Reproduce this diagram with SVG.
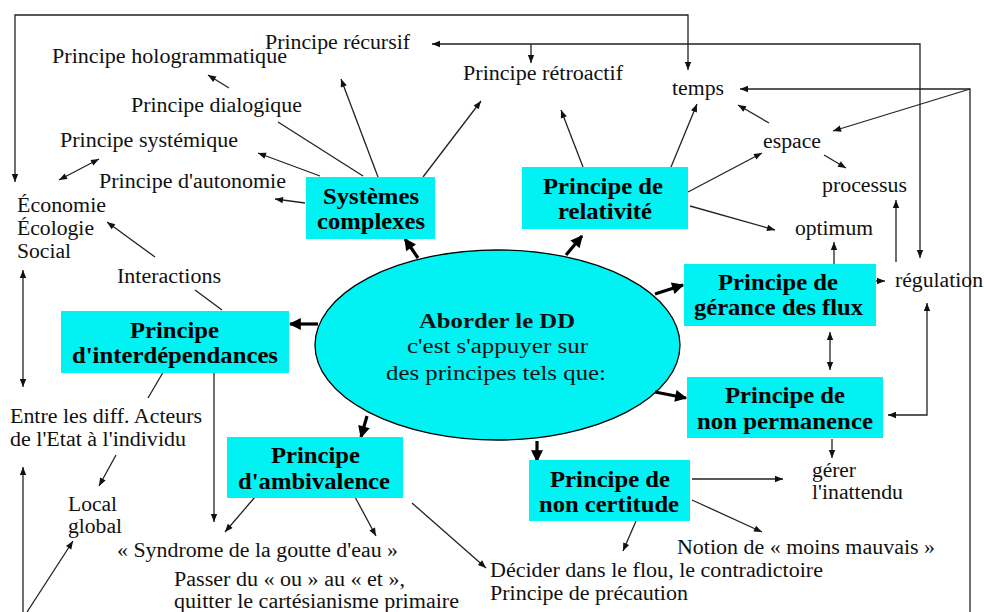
<svg xmlns="http://www.w3.org/2000/svg" width="984" height="612" viewBox="0 0 984 612">
<defs>
<marker id="a" viewBox="0 0 10 10" refX="10" refY="5" markerWidth="9" markerHeight="8" markerUnits="userSpaceOnUse" orient="auto-start-reverse"><path d="M0,1 L10,5 L0,9 z" fill="#111"/></marker>
<marker id="b" viewBox="0 0 10 10" refX="9" refY="5" markerWidth="13" markerHeight="12" markerUnits="userSpaceOnUse" orient="auto"><path d="M0,0 L10,5 L0,10 z" fill="#000"/></marker>
<style>
.t{font-family:"Liberation Serif","Times New Roman",serif;font-size:20px;fill:#111}
.b{font-family:"Liberation Serif","Times New Roman",serif;font-size:23px;font-weight:bold;fill:#000}
.box{fill:#00F2F2}
.c path{fill:none;stroke:#222;stroke-width:1.3}
.c .e{marker-end:url(#a)}
.c .s{marker-start:url(#a)}
.k path{fill:none;stroke:#000;stroke-width:3.2;marker-end:url(#b)}
</style>
</defs>
<rect width="984" height="612" fill="#fff"/>

<g class="c" id="connectors">
<path class="e s" d="M15,182 L15,15 L688,15 L688,70"/>
<path class="e s" d="M432,44 L920,44 L920,258"/>
<path class="e" d="M531,44 L531,63"/>
<path class="e" d="M970,612 L970,89 L740,89"/>
<path class="e" d="M970,89 L833,131"/>
<path class="e" d="M23,612 L23,467"/>
<path class="e" d="M27,612 L73,541"/>
<path class="e s" d="M23,270 L23,387"/>
<path class="e s" d="M59,180 L99,159"/>
<path class="e" d="M155,257 L107,222"/>
<path d="M195,290 L222,310"/>
<path d="M363,176 L278,122"/>
<path class="e" d="M229,88 L208,75"/>
<path class="e" d="M320,176 L258,153"/>
<path class="e" d="M305,203 L275,199"/>
<path class="e" d="M378,177 L341,79"/>
<path class="e" d="M423,177 L481,101"/>
<path class="e" d="M583,167 L561,110"/>
<path class="e" d="M671,167 L697,104"/>
<path class="e" d="M688,192 L762,153"/>
<path class="e" d="M690,206 L775,230"/>
<path class="e" d="M769,123 L738,105"/>
<path class="e" d="M824,155 L846,168"/>
<path class="e" d="M896,262 L896,200"/>
<path class="e" d="M834,264 L834,242"/>
<path class="e" d="M876,281 L885,281"/>
<path class="e s" d="M830,332 L830,370"/>
<path class="e s" d="M888,415 L927,415 L927,303"/>
<path class="e" d="M832,439 L832,458"/>
<path class="e" d="M692,479 L783,479"/>
<path class="e" d="M692,500 L762,532"/>
<path class="e" d="M636,521 L623,551"/>
<path d="M165,369 L148,398"/>
<path class="e" d="M116,455 L99,486"/>
<path class="e" d="M214,369 L214,522"/>
<path class="e" d="M255,497 L225,532"/>
<path class="e" d="M355,497 L376,536"/>
<path class="e" d="M412,503 L486,568"/>
</g>

<g id="center">
<ellipse cx="497.5" cy="345" rx="182.5" ry="95" fill="#00F2F2" stroke="#000" stroke-width="1.3"/>
<text class="t" x="419" y="328" textLength="156" lengthAdjust="spacingAndGlyphs" font-weight="bold">Aborder le DD</text>
<text class="t" x="407" y="353" textLength="181" lengthAdjust="spacingAndGlyphs">c'est s'appuyer sur</text>
<text class="t" x="386" y="380" textLength="220" lengthAdjust="spacingAndGlyphs">des principes tels que:</text>
</g>

<g class="k" id="main-arrows">
<path d="M418,258 L405,239"/>
<path d="M566,255 L582,236"/>
<path d="M655,294 L683,285"/>
<path d="M655,392 L686,398"/>
<path d="M537,441 L537,461"/>
<path d="M367,416 L361,437"/>
<path d="M318,324 L290,324"/>
</g>

<g id="systemes">
<rect class="box" x="306" y="177" width="129" height="62"/>
<text class="b" x="323" y="204" textLength="96" lengthAdjust="spacingAndGlyphs">Systèmes</text>
<text class="b" x="317" y="229" textLength="108" lengthAdjust="spacingAndGlyphs">complexes</text>
</g>
<g id="relativite">
<rect class="box" x="522" y="167" width="166" height="62"/>
<text class="b" x="543" y="194" textLength="120" lengthAdjust="spacingAndGlyphs">Principe de</text>
<text class="b" x="558" y="219" textLength="94" lengthAdjust="spacingAndGlyphs">relativité</text>
</g>
<g id="gerance">
<rect class="box" x="684" y="264" width="192" height="62"/>
<text class="b" x="718" y="290" textLength="120" lengthAdjust="spacingAndGlyphs">Principe de</text>
<text class="b" x="694" y="315" textLength="169" lengthAdjust="spacingAndGlyphs">gérance des flux</text>
</g>
<g id="interdependances">
<rect class="box" x="61" y="311" width="228" height="62"/>
<text class="b" x="130" y="338" textLength="89" lengthAdjust="spacingAndGlyphs">Principe</text>
<text class="b" x="72" y="363" textLength="206" lengthAdjust="spacingAndGlyphs">d'interdépendances</text>
</g>
<g id="permanence">
<rect class="box" x="687" y="377" width="196" height="61"/>
<text class="b" x="725" y="403" textLength="120" lengthAdjust="spacingAndGlyphs">Principe de</text>
<text class="b" x="697" y="429" textLength="176" lengthAdjust="spacingAndGlyphs">non permanence</text>
</g>
<g id="ambivalence">
<rect class="box" x="227" y="437" width="176" height="61"/>
<text class="b" x="271" y="463" textLength="89" lengthAdjust="spacingAndGlyphs">Principe</text>
<text class="b" x="238" y="489" textLength="152" lengthAdjust="spacingAndGlyphs">d'ambivalence</text>
</g>
<g id="certitude">
<rect class="box" x="529" y="460" width="161" height="61"/>
<text class="b" x="550" y="487" textLength="120" lengthAdjust="spacingAndGlyphs">Principe de</text>
<text class="b" x="539" y="512" textLength="140" lengthAdjust="spacingAndGlyphs">non certitude</text>
</g>

<g id="labels">
<text class="t" x="265" y="49" textLength="145" lengthAdjust="spacingAndGlyphs">Principe récursif</text>
<text class="t" x="52" y="63" textLength="235" lengthAdjust="spacingAndGlyphs">Principe hologrammatique</text>
<text class="t" x="463" y="80" textLength="160" lengthAdjust="spacingAndGlyphs">Principe rétroactif</text>
<text class="t" x="672" y="95" textLength="52" lengthAdjust="spacingAndGlyphs">temps</text>
<text class="t" x="131" y="112" textLength="171" lengthAdjust="spacingAndGlyphs">Principe dialogique</text>
<text class="t" x="60" y="147" textLength="178" lengthAdjust="spacingAndGlyphs">Principe systémique</text>
<text class="t" x="763" y="148" textLength="58" lengthAdjust="spacingAndGlyphs">espace</text>
<text class="t" x="99" y="188" textLength="187" lengthAdjust="spacingAndGlyphs">Principe d'autonomie</text>
<text class="t" x="822" y="192" textLength="85" lengthAdjust="spacingAndGlyphs">processus</text>
<text class="t" x="17" y="212" textLength="89" lengthAdjust="spacingAndGlyphs">Économie</text>
<text class="t" x="17" y="235" textLength="77" lengthAdjust="spacingAndGlyphs">Écologie</text>
<text class="t" x="17" y="258" textLength="54" lengthAdjust="spacingAndGlyphs">Social</text>
<text class="t" x="795" y="235" textLength="78" lengthAdjust="spacingAndGlyphs">optimum</text>
<text class="t" x="117" y="283" textLength="104" lengthAdjust="spacingAndGlyphs">Interactions</text>
<text class="t" x="895" y="287" textLength="88" lengthAdjust="spacingAndGlyphs">régulation</text>
<text class="t" x="10" y="423" textLength="192" lengthAdjust="spacingAndGlyphs">Entre les diff. Acteurs</text>
<text class="t" x="10" y="446" textLength="176" lengthAdjust="spacingAndGlyphs">de l'Etat à l'individu</text>
<text class="t" x="68" y="511" textLength="49" lengthAdjust="spacingAndGlyphs">Local</text>
<text class="t" x="68" y="533" textLength="54" lengthAdjust="spacingAndGlyphs">global</text>
<text class="t" x="812" y="477" textLength="44" lengthAdjust="spacingAndGlyphs">gérer</text>
<text class="t" x="812" y="499" textLength="91" lengthAdjust="spacingAndGlyphs">l'inattendu</text>
<text class="t" x="117" y="557" textLength="281" lengthAdjust="spacingAndGlyphs">« Syndrome de la goutte d'eau »</text>
<text class="t" x="677" y="554" textLength="258" lengthAdjust="spacingAndGlyphs">Notion de « moins mauvais »</text>
<text class="t" x="490" y="577" textLength="333" lengthAdjust="spacingAndGlyphs">Décider dans le flou, le contradictoire</text>
<text class="t" x="174" y="586" textLength="231" lengthAdjust="spacingAndGlyphs">Passer du « ou » au « et »,</text>
<text class="t" x="490" y="600" textLength="198" lengthAdjust="spacingAndGlyphs">Principe de précaution</text>
<text class="t" x="174" y="608" textLength="285" lengthAdjust="spacingAndGlyphs">quitter le cartésianisme primaire</text>
</g>
</svg>
